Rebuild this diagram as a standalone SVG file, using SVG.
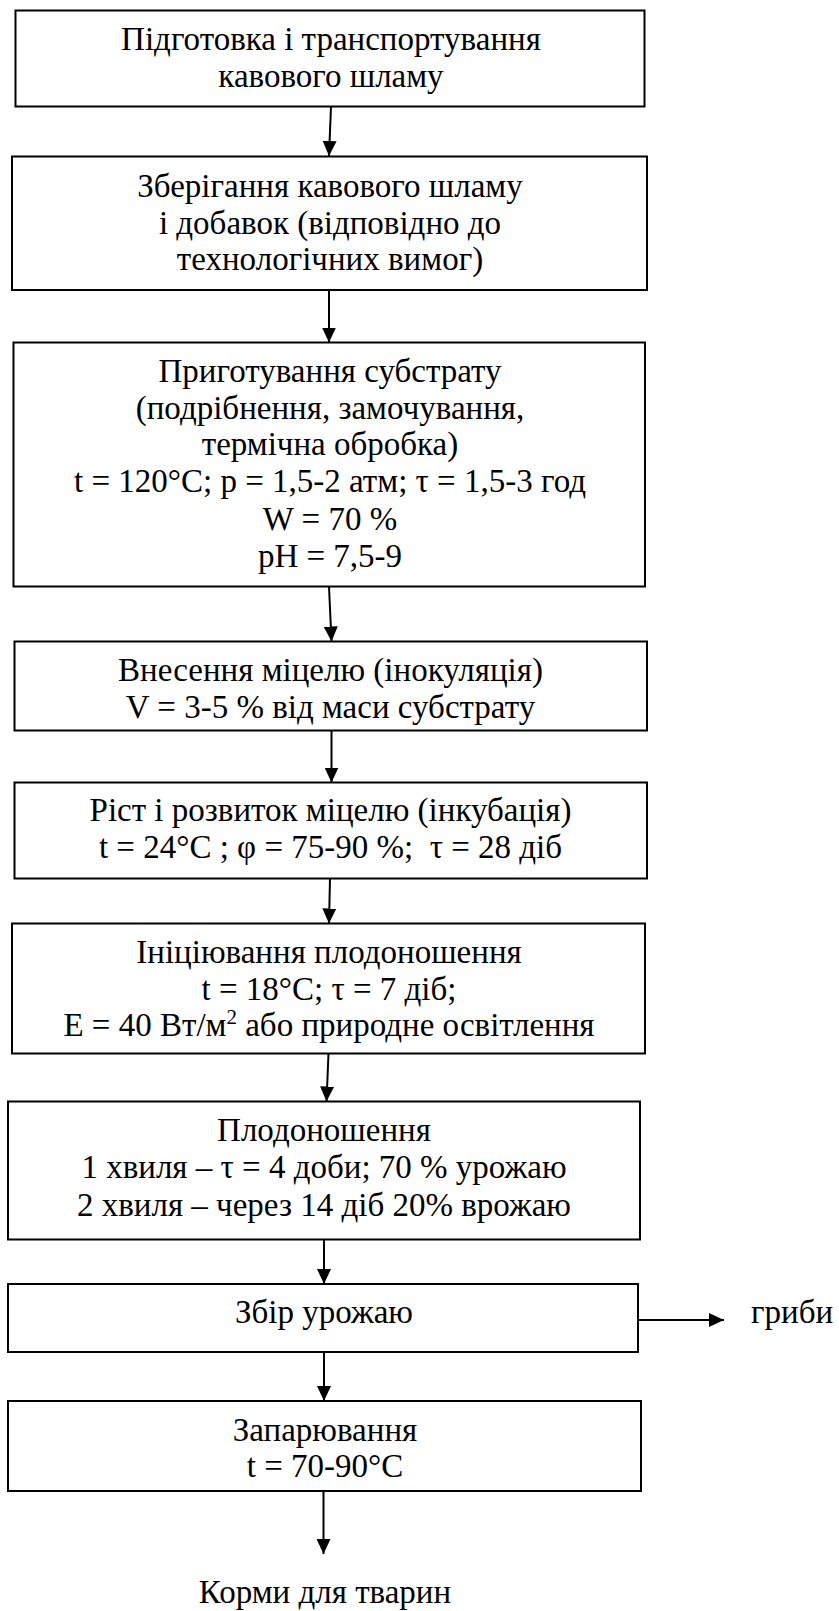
<svg xmlns="http://www.w3.org/2000/svg" width="839" height="1611" viewBox="0 0 839 1611">
<style>
  .box { fill: #ffffff; stroke: #000000; stroke-width: 2; }
  .t { font-family: "Liberation Serif", "Times New Roman", serif; font-size: 33px; fill: #000000; text-anchor: middle; }
  .tl { font-family: "Liberation Serif", "Times New Roman", serif; font-size: 33px; fill: #000000; text-anchor: start; }
  .c { stroke: #000000; stroke-width: 2; fill: none; }
</style>
<defs>
  <marker id="ah" viewBox="0 0 15 14" refX="15" refY="7" markerWidth="15" markerHeight="14" markerUnits="userSpaceOnUse" orient="auto">
    <path d="M0,0 L15,7 L0,14 Z" fill="#000000"/>
  </marker>
</defs>
<rect width="839" height="1611" fill="#ffffff"/>

<g id="n1">
  <rect class="box" x="15.5" y="10.5" width="629" height="96"/>
  <text class="t" x="331" y="50">Підготовка і транспортування</text>
  <text class="t" x="331" y="87">кавового шламу</text>
</g>

<g id="n2">
  <rect class="box" x="12" y="156.5" width="635" height="133.5"/>
  <text class="t" x="330" y="197">Зберігання кавового шламу</text>
  <text class="t" x="330" y="233.5">і добавок (відповідно до</text>
  <text class="t" x="330" y="270">технологічних вимог)</text>
</g>

<g id="n3">
  <rect class="box" x="13.5" y="342.5" width="631.5" height="244"/>
  <text class="t" x="330" y="381.5">Приготування субстрату</text>
  <text class="t" x="330" y="418.5">(подрібнення, замочування,</text>
  <text class="t" x="330" y="455">термічна обробка)</text>
  <text class="t" x="330" y="492">t = 120°C; p = 1,5-2 атм; τ = 1,5-3 год</text>
  <text class="t" x="330" y="530">W = 70 %</text>
  <text class="t" x="330" y="567">pH = 7,5-9</text>
</g>

<g id="n4">
  <rect class="box" x="14.5" y="641.5" width="632.5" height="89"/>
  <text class="t" x="330.5" y="681">Внесення міцелю (інокуляція)</text>
  <text class="t" x="330.5" y="717.5">V = 3-5 % від маси субстрату</text>
</g>

<g id="n5">
  <rect class="box" x="14.5" y="782.5" width="632.5" height="96"/>
  <text class="t" x="330.5" y="821">Ріст і розвиток міцелю (інкубація)</text>
  <text class="t" x="330.5" y="858" xml:space="preserve">t = 24°C ; φ = 75-90 %;  τ = 28 діб</text>
</g>

<g id="n6">
  <rect class="box" x="12" y="923.5" width="633" height="130"/>
  <text class="t" x="329" y="962.5">Ініціювання плодоношення</text>
  <text class="t" x="329" y="999.5">t = 18°C; τ = 7 діб;</text>
  <text class="t" x="329" y="1036">E = 40 Вт/м<tspan font-size="21" dy="-12">2</tspan><tspan dy="12"> або природне освітлення</tspan></text>
</g>

<g id="n7">
  <rect class="box" x="8" y="1101.5" width="632" height="138"/>
  <text class="t" x="324" y="1141">Плодоношення</text>
  <text class="t" x="324" y="1177.5">1 хвиля – τ = 4 доби; 70 % урожаю</text>
  <text class="t" x="324" y="1215.5">2 хвиля – через 14 діб 20% врожаю</text>
</g>

<g id="n8">
  <rect class="box" x="8" y="1284" width="630" height="68"/>
  <text class="t" x="324" y="1323">Збір урожаю</text>
</g>

<g id="n9">
  <rect class="box" x="8" y="1401" width="633" height="90"/>
  <text class="t" x="325" y="1440.5">Запарювання</text>
  <text class="t" x="325" y="1477">t = 70-90°C</text>
</g>

<g id="out1">
  <text class="tl" x="751" y="1322.5">гриби</text>
</g>

<g id="out2">
  <text class="t" x="325" y="1603">Корми для тварин</text>
</g>

<g id="connectors">
  <line class="c" x1="331" y1="106.5" x2="329" y2="156" marker-end="url(#ah)"/>
  <line class="c" x1="329" y1="290" x2="329" y2="342.5" marker-end="url(#ah)"/>
  <line class="c" x1="329" y1="586.5" x2="331.5" y2="641.5" marker-end="url(#ah)"/>
  <line class="c" x1="331.5" y1="730.5" x2="331.5" y2="782.5" marker-end="url(#ah)"/>
  <line class="c" x1="330" y1="878.5" x2="329" y2="923.5" marker-end="url(#ah)"/>
  <line class="c" x1="328.5" y1="1053.5" x2="326.5" y2="1101.5" marker-end="url(#ah)"/>
  <line class="c" x1="324" y1="1239.5" x2="324" y2="1284" marker-end="url(#ah)"/>
  <line class="c" x1="324" y1="1352" x2="324" y2="1401" marker-end="url(#ah)"/>
  <line class="c" x1="323.5" y1="1491" x2="323.5" y2="1554" marker-end="url(#ah)"/>
  <line class="c" x1="638" y1="1320" x2="724" y2="1320" stroke-width="3" marker-end="url(#ah)"/>
</g>
</svg>
